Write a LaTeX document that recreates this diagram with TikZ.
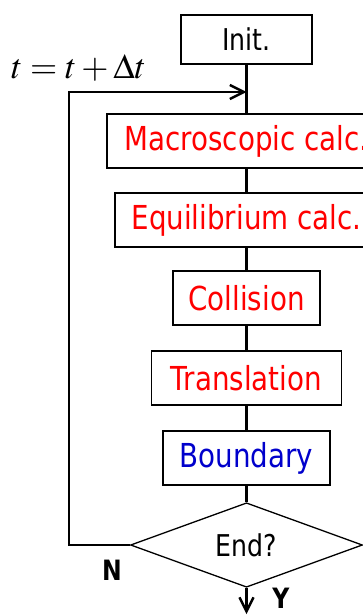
\documentclass[tikz,border=0pt]{standalone}
\usepackage{mathptmx}
\usepackage{fontspec}
\setmainfont{DejaVu Sans}[FakeStretch=0.84]
\usetikzlibrary{shapes.geometric,arrows.meta}
\definecolor{calcred}{RGB}{255,0,0}
\definecolor{bcblue}{RGB}{0,0,204}

\begin{document}
\begin{tikzpicture}[x=1pt,y=-1pt,>={Straight Barb[length=14pt,width=14pt]},
	box/.style={draw,line width=1.3pt,minimum height=54pt,inner sep=0pt,font=\fontsize{33}{38}\selectfont},
	cond/.style={draw,diamond,line width=1.3pt,minimum width=232pt,minimum height=84pt,inner sep=0pt,font=\fontsize{30}{35}\selectfont},
	flow/.style={line width=2.4pt},
	yn/.style={inner sep=0pt,font=\fontsize{28}{32}\selectfont\bfseries}]
	\useasboundingbox (0,0) rectangle (362,615);
	% steps of one time step
	\node[box,minimum width=131pt,minimum height=49pt,font=\fontsize{30}{35}\selectfont] (init) at (246.5,39.5) {Init.};
	\node[box,minimum width=279pt,text=calcred] (macro) at (246.5,141) {Macroscopic calc.};
	\node[box,minimum width=263pt,text=calcred] (equil) at (246.5,220) {Equilibrium calc.};
	\node[box,minimum width=147pt,text=calcred] (coll) at (246.5,298) {Collision};
	\node[box,minimum width=190pt,text=calcred] (trans) at (246.5,378) {Translation};
	\node[box,minimum width=167pt,text=bcblue] (bound) at (246.5,458) {Boundary};
	\node[cond] (end) at (246.5,545) {End?};
	\draw[flow] (init) -- (macro) -- (equil) -- (coll) -- (trans) -- (bound) -- (end);
	% loop back
	\coordinate (join) at (246.5,92);
	\coordinate (loop) at (69,92);
	\coordinate (exit) at (246.5,614);
	\draw[flow,->] (end.west) -| (loop) -- (join);
	\draw[flow,->] (end.south) -- (exit);
	\node[anchor=base west,inner sep=0pt,font=\fontsize{35}{40}\selectfont] (tlabel) at (11,79) {$t=t+\Delta t$};
	\node[yn] (no) at (112,570) {N};
	\node[yn] (yes) at (281,598) {Y};
\end{tikzpicture}
\end{document}
